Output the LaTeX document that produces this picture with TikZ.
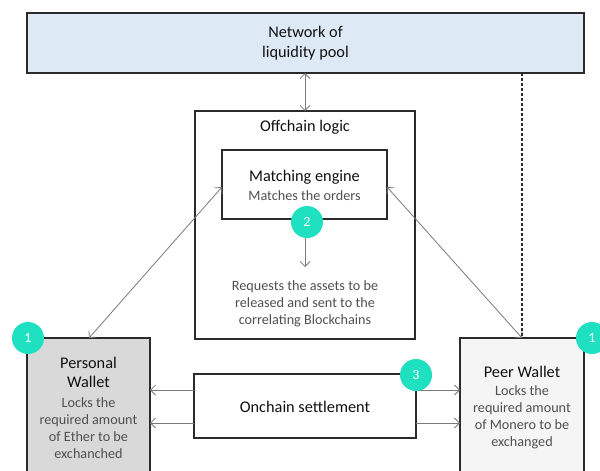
\documentclass[tikz,border=0pt]{standalone}
\usepackage{fontspec}
\setmainfont{Carlito}
\usetikzlibrary{arrows.meta}
\definecolor{tealc}{HTML}{1FE0C0}
\definecolor{netblue}{HTML}{DDEAF6}
\definecolor{pwgrey}{HTML}{D9D9D9}
\definecolor{peergrey}{HTML}{F5F5F5}
\definecolor{boxline}{HTML}{2B2B2B}
\definecolor{arrline}{HTML}{7A7A7A}
\definecolor{titletext}{HTML}{111111}
\definecolor{bodytext}{HTML}{505050}
\begin{document}
\begin{tikzpicture}[x=1pt,y=-1pt,
  box/.style={draw=boxline, line width=1.3pt, rectangle, inner sep=0pt, outer sep=0pt},
  titlefont/.style={font=\fontsize{16.3}{19.5}\selectfont, text=titletext, align=center, inner sep=0pt},
  bodyfont/.style={font=\fontsize{14.2}{17}\selectfont, text=bodytext, align=center, inner sep=0pt},
  badge/.style={circle, fill=tealc, minimum size=32pt, inner sep=0pt, text=white, font=\fontsize{14}{14}\selectfont},
  link/.style={draw=arrline, line width=0.8pt},
  tip/.style={-{Straight Barb[length=5pt,width=10pt]}},
  tips/.style={{Straight Barb[length=5pt,width=10pt]}-{Straight Barb[length=5pt,width=10pt]}}
]
\clip (0,0) rectangle (600,471);
\fill[white] (0,0) rectangle (600,471);

% boxes
\node[box, fill=netblue, minimum width=557pt, minimum height=60pt] (net) at (305.5,43) {};
\node[box, minimum width=220pt, minimum height=228pt] (off) at (305,225) {};
\node[box, minimum width=165pt, minimum height=69pt] (match) at (304.5,184.5) {};
\node[box, fill=pwgrey, minimum width=123pt, minimum height=150pt] (pers) at (88.5,413) {};
\node[box, fill=peergrey, minimum width=124pt, minimum height=150pt] (peer) at (522,413) {};
\node[box, minimum width=222pt, minimum height=64pt] (onch) at (305,406) {};

% texts
\node[titlefont] (nett) at (305.5,43) {Network of\\liquidity pool};
\node[titlefont] (offt) at (305,127) {Offchain logic};
\node[titlefont] (matcht) at (304.5,177) {Matching engine};
\node[bodyfont] (matchb) at (304.5,196) {Matches the orders};
\node[bodyfont] (req) at (305,304) {Requests the assets to be\\released and sent to the\\correlating Blockchains};
\node[titlefont] (perst) at (88.5,372.5) {Personal\\Wallet};
\node[bodyfont] (persb) at (88.5,428) {Locks the\\required amount\\of Ether to be\\exchanched};
\node[titlefont] (peert) at (522,372) {Peer Wallet};
\node[bodyfont] (peerb) at (522,417.5) {Locks the\\required amount\\of Monero to be\\exchanged};
\node[titlefont] (oncht) at (305,407) {Onchain settlement};

% coordinates
\coordinate (netA) at (305,73);
\coordinate (offA) at (305,111);
\coordinate (mL) at (222,187);
\coordinate (mR) at (387,187);
\coordinate (persTop) at (89,338);
\coordinate (peerTop) at (522,338);
\coordinate (netD) at (522,73);
\coordinate (reqTop) at (305,267);
\coordinate (oL1) at (194,390);
\coordinate (oL2) at (194,423);
\coordinate (pR1) at (150,390);
\coordinate (pR2) at (150,423);
\coordinate (oR1) at (416,390);
\coordinate (oR2) at (416,423);
\coordinate (qL1) at (460,390);
\coordinate (qL2) at (460,423);

% connectors
\draw[link, tips] (netA) -- (offA);
\draw[link, tips] (mL) -- (persTop);
\draw[link, tips] (mR) -- (peerTop);
\draw[draw=boxline, line width=1.3pt, dash pattern=on 2.5pt off 2.5pt] (netD) -- (peerTop);
\draw[link, tip] (oL1) -- (pR1);
\draw[link, tip] (oL2) -- (pR2);
\draw[link, tip] (oR1) -- (qL1);
\draw[link, tip] (oR2) -- (qL2);

% badges
\node[badge] (b2) at (307,222) {2};
\draw[link, tip] (b2.south -| reqTop) -- (reqTop);
\node[badge] (b1a) at (28,338) {1};
\node[badge] (b1b) at (592,338) {1};
\node[badge] (b3) at (416,375) {3};
\end{tikzpicture}
\end{document}
